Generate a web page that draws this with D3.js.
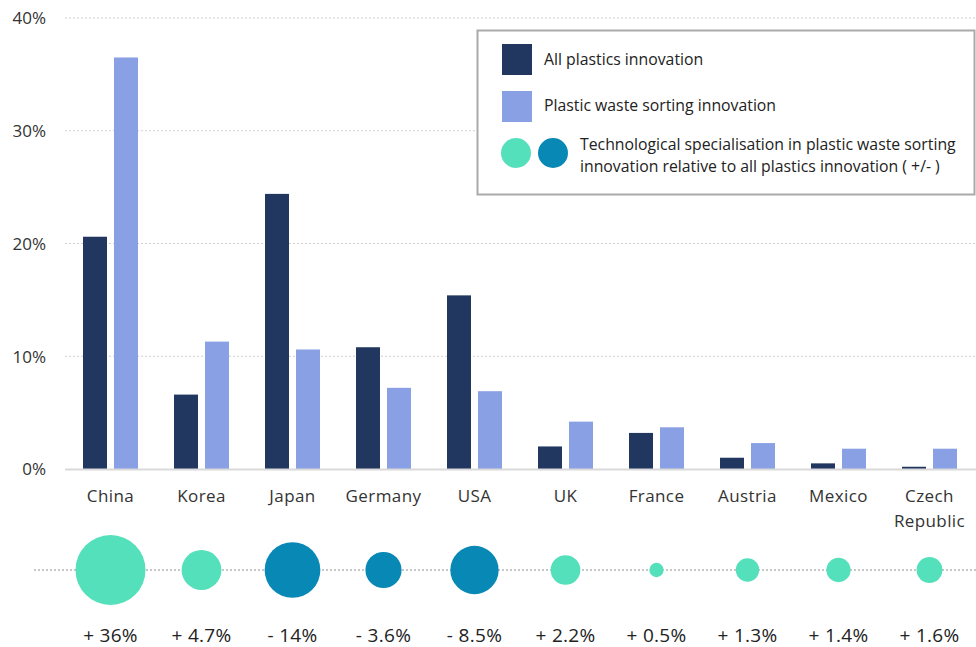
<!DOCTYPE html>
<html><head><meta charset="utf-8">
<script src="https://cdn.jsdelivr.net/npm/d3@7"></script>
<style>
html,body{margin:0;padding:0;background:#fff;}
svg{display:block;font-family:"Open Sans","DejaVu Sans",sans-serif;}
</style></head>
<body><svg id="c" width="976" height="647"></svg>
<script>
const countries = ["China","Korea","Japan","Germany","USA","UK","France","Austria","Mexico","Czech Republic"];
const allPlastics = [20.6, 6.6, 24.4, 10.8, 15.4, 2.0, 3.2, 1.0, 0.5, 0.2];
const sortingInnov = [36.5, 11.3, 10.6, 7.2, 6.9, 4.2, 3.7, 2.3, 1.8, 1.8];
const specialisation = [36, 4.7, -14, -3.6, -8.5, 2.2, 0.5, 1.3, 1.4, 1.6];
const yTicks = [0, 10, 20, 30, 40];
const seriesNames = ["All plastics innovation","Plastic waste sorting innovation"];
const specLegend = ["Technological specialisation in plastic waste sorting","innovation relative to all plastics innovation ( +/- )"];

const colDark = "#22375f", colLight = "#89a0e4", colPos = "#54e0bb", colNeg = "#0888b5";
const svg = d3.select("#c");

const x0 = d3.scaleBand().domain(countries).range([65, 975]).paddingInner(0.3956).paddingOuter(0.1978);
const x1 = d3.scaleBand().domain([0,1]).range([0, x0.bandwidth()]).paddingInner(0.226);
const y = d3.scaleLinear().domain([0, 40]).range([469, 18]);
const r = d3.scaleSymlog().constant(0.5).domain([0, 36]).range([1.8, 35]);

// grid
const grid = svg.append("g");
grid.selectAll("line").data(yTicks.filter(d=>d>0)).join("line")
  .attr("x1", 65).attr("x2", 976).attr("y1", d=>y(d)).attr("y2", d=>y(d))
  .attr("stroke", "#cfcfcf").attr("stroke-width", 1.2).attr("stroke-dasharray", "2,2");
// y axis labels
const yAxis = d3.axisLeft(y).tickValues(yTicks).tickFormat(d=>d+"%").tickSize(0).tickPadding(0);
const ya = svg.append("g").attr("transform", "translate(46,0)").call(yAxis);
ya.select(".domain").remove();
ya.selectAll("text").attr("font-size", 17).attr("fill", "#333").attr("font-family", "Open Sans, sans-serif").attr("dy", "0.35em");

// bars
const groups = svg.append("g").selectAll("g").data(countries).join("g")
  .attr("transform", d=>`translate(${x0(d)},0)`);
groups.selectAll("rect").data((d,i)=>[allPlastics[i], sortingInnov[i]]).join("rect")
  .attr("x", (d,j)=>x1(j)).attr("width", x1.bandwidth())
  .attr("y", d=>y(d)).attr("height", d=>y(0)-y(d))
  .attr("fill", (d,j)=> j===0 ? colDark : colLight);

// baseline
svg.append("line").attr("x1", 65).attr("x2", 976).attr("y1", y(0)+0.5).attr("y2", y(0)+0.5)
  .attr("stroke", "#d9d9d9").attr("stroke-width", 2);

// x labels
const xl = svg.append("g").selectAll("text").data(countries).join("text")
  .attr("x", d=>x0(d)+x0.bandwidth()/2).attr("y", 502)
  .attr("text-anchor", "middle").attr("font-size", 17).attr("letter-spacing", 0.4).attr("fill", "#333");
xl.each(function(d){
  const parts = d === "Czech Republic" ? ["Czech","Republic"] : [d];
  d3.select(this).selectAll("tspan").data(parts).join("tspan")
    .attr("x", x0(d)+x0.bandwidth()/2).attr("dy", (p,k)=> k===0 ? 0 : 25).text(p=>p);
});

// bubble row
const cy = 570;
svg.append("line").attr("x1", 34).attr("x2", 976).attr("y1", cy).attr("y2", cy)
  .attr("stroke", "#b5b5b5").attr("stroke-width", 1.5).attr("stroke-dasharray", "2,2");
svg.append("g").selectAll("circle").data(specialisation).join("circle")
  .attr("cx", (d,i)=>x0(countries[i])+x0.bandwidth()/2).attr("cy", cy)
  .attr("r", d=>r(Math.abs(d)))
  .attr("fill", d=> d>=0 ? colPos : colNeg);
svg.append("g").selectAll("text").data(specialisation).join("text")
  .attr("x", (d,i)=>x0(countries[i])+x0.bandwidth()/2).attr("y", 642)
  .attr("text-anchor", "middle").attr("font-size", 19).attr("letter-spacing", 0.3).attr("fill", "#222")
  .text(d=> (d>=0 ? "+ " : "- ") + Math.abs(d) + "%");

// legend
const lg = svg.append("g");
lg.append("rect").attr("x", 477.5).attr("y", 30.5).attr("width", 497).attr("height", 164)
  .attr("fill", "#fff").attr("stroke", "#aaaaaa").attr("stroke-width", 2);
[colDark, colLight].forEach((c,i)=>{
  lg.append("rect").attr("x", 502).attr("y", 44 + i*47).attr("width", 30).attr("height", 31).attr("fill", c);
  lg.append("text").attr("x", 544).attr("y", 65 + i*45.5)
    .attr("font-size", 15.8).attr("fill", "#222").text(seriesNames[i]);
});
lg.append("circle").attr("cx", 516).attr("cy", 153).attr("r", 15).attr("fill", colPos);
lg.append("circle").attr("cx", 553).attr("cy", 153).attr("r", 15).attr("fill", colNeg);
specLegend.forEach((t,i)=>{
  lg.append("text").attr("x", 580).attr("y", 150 + i*21.5)
    .attr("font-size", 15.8).attr("fill", "#222").text(t);
});
</script></body></html>
